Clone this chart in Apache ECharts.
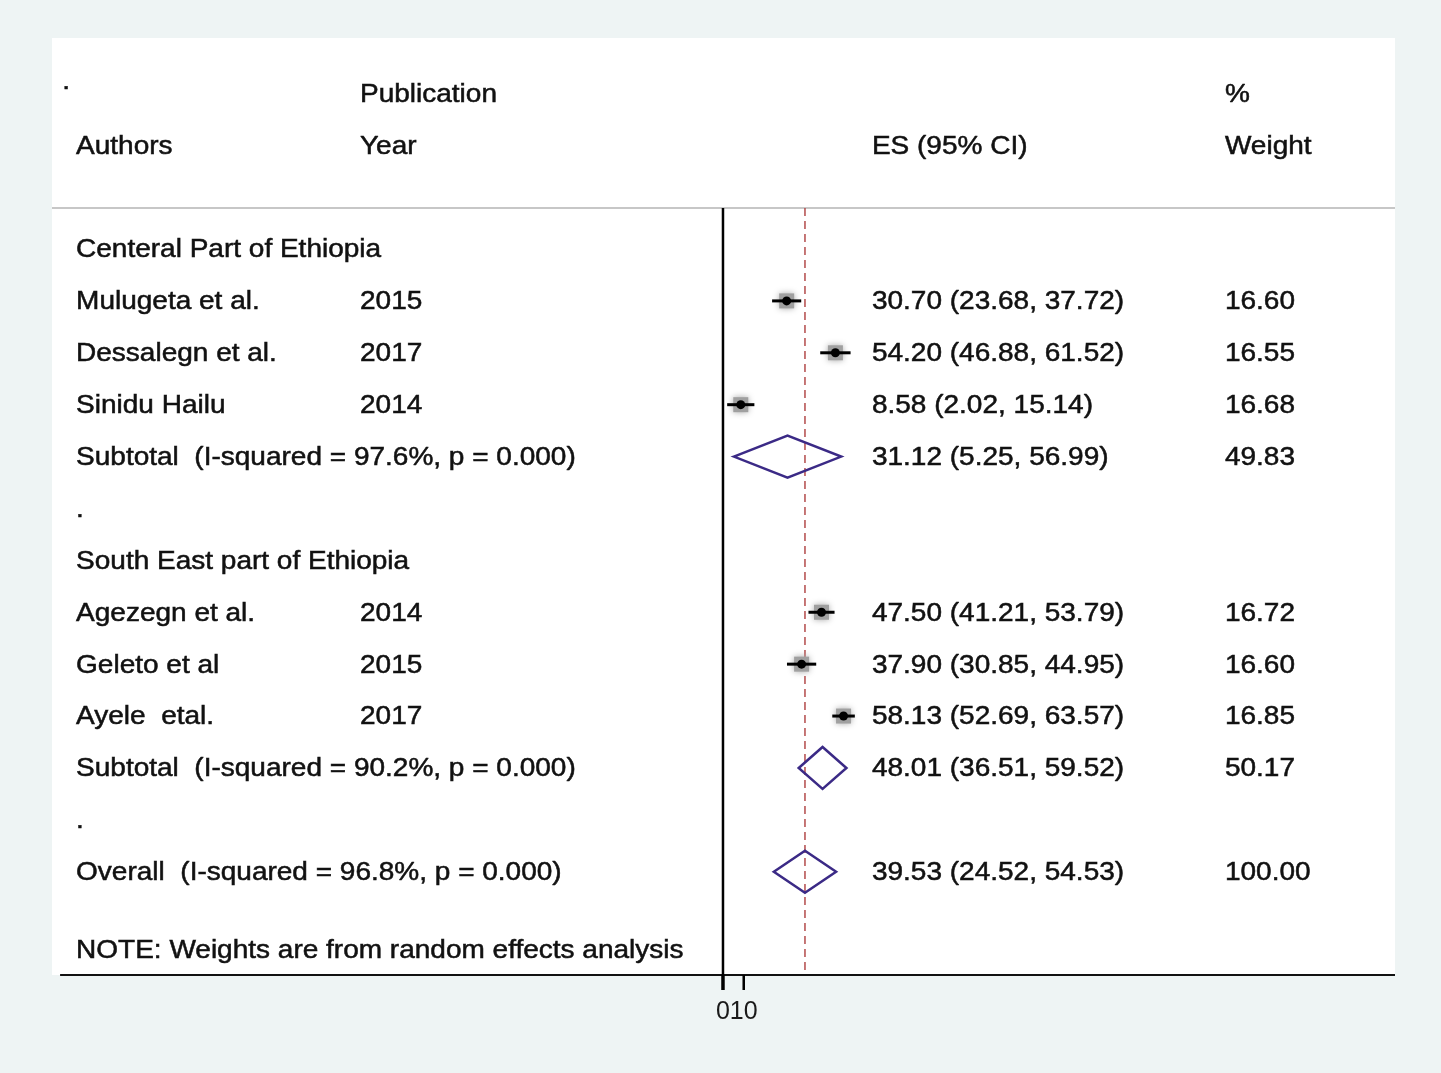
<!DOCTYPE html>
<html><head><meta charset="utf-8">
<script src="https://cdn.jsdelivr.net/npm/echarts@6/dist/echarts.min.js"></script>
<style>html,body{margin:0;padding:0;background:#fff}#c{width:1441px;height:1073px}</style>
</head><body><div id="c"></div>
<script>
// ---- data ----
const groupNames = ['Centeral Part of Ethiopia', 'South East part of Ethiopia'];
const authors = ['Mulugeta et al.', 'Dessalegn et al.', 'Sinidu Hailu', 'Agezegn et al.', 'Geleto et al', 'Ayele  etal.'];
const studyGroup = [0, 0, 0, 1, 1, 1];
const years = [2015, 2017, 2014, 2014, 2015, 2017];
const es = [30.70, 54.20, 8.58, 47.50, 37.90, 58.13];
const lo = [23.68, 46.88, 2.02, 41.21, 30.85, 52.69];
const hi = [37.72, 61.52, 15.14, 53.79, 44.95, 63.57];
const weights = [16.60, 16.55, 16.68, 16.72, 16.60, 16.85];
const subES = [31.12, 48.01];
const subLo = [5.25, 36.51];
const subHi = [56.99, 59.52];
const subW = [49.83, 50.17];
const subI2 = ['97.6%', '90.2%'];
const overallES = 39.53, overallLo = 24.52, overallHi = 54.53, overallW = 100.00, overallI2 = '96.8%';
const xTickValues = [0, 10];
const xTickLabels = ['0', '10'];
const headerTop = ['Publication', '%'];
const headerBottom = ['Authors', 'Year', 'ES (95% CI)', 'Weight'];
const noteText = 'NOTE: Weights are from random effects analysis';

// ---- layout (data units of the axes) ----
const colA = -311.9, colY = -175.0, colES = 71.8, colW = 242.0, colDot = -318.5;
const X_MIN = -323.5, X_MAX = 324.0, Y_MIN = -4.066, Y_MAX = 13.99;
const TOP_LINE = -0.79, AXIS_LEFT = -319.6;

const f2 = v => v.toFixed(2);
const ci = (e, l, h) => `${f2(e)} (${f2(l)}, ${f2(h)})`;

// build rows
const texts = [];
const studies = [];
const diamonds = [];
texts.push({ x: colDot, y: -3.25, t: '.' });
texts.push({ x: colY, y: -3, t: headerTop[0] });
texts.push({ x: colW, y: -3, t: headerTop[1] });
texts.push({ x: colA, y: -2, t: headerBottom[0] });
texts.push({ x: colY, y: -2, t: headerBottom[1] });
texts.push({ x: colES, y: -2, t: headerBottom[2] });
texts.push({ x: colW, y: -2, t: headerBottom[3] });
let row = 0;
for (let g = 0; g < groupNames.length; g++) {
  texts.push({ x: colA, y: row, t: groupNames[g] });
  row++;
  for (let i = 0; i < authors.length; i++) {
    if (studyGroup[i] !== g) continue;
    texts.push({ x: colA, y: row, t: authors[i] });
    texts.push({ x: colY, y: row, t: String(years[i]) });
    texts.push({ x: colES, y: row, t: ci(es[i], lo[i], hi[i]) });
    texts.push({ x: colW, y: row, t: f2(weights[i]) });
    studies.push([es[i], row, lo[i], hi[i]]);
    row++;
  }
  texts.push({ x: colA, y: row, t: `Subtotal  (I-squared = ${subI2[g]}, p = 0.000)` });
  texts.push({ x: colES, y: row, t: ci(subES[g], subLo[g], subHi[g]) });
  texts.push({ x: colW, y: row, t: f2(subW[g]) });
  diamonds.push([subES[g], row, subLo[g], subHi[g]]);
  row++;
  texts.push({ x: colA, y: row, t: '.' });
  row++;
}
texts.push({ x: colA, y: row, t: `Overall  (I-squared = ${overallI2}, p = 0.000)` });
texts.push({ x: colES, y: row, t: ci(overallES, overallLo, overallHi) });
texts.push({ x: colW, y: row, t: f2(overallW) });
diamonds.push([overallES, row, overallLo, overallHi]);
texts.push({ x: colA, y: row + 1.5, t: noteText });

const FONT = 'Liberation Sans, Arial, Helvetica, sans-serif';

const chart = echarts.init(document.getElementById('c'));
chart.setOption({
  backgroundColor: '#eef4f4',
  animation: false,
  grid: { left: 52, right: 46, top: 38, bottom: 98, show: true, backgroundColor: '#ffffff', borderWidth: 0 },
  xAxis: {
    type: 'value', min: X_MIN, max: X_MAX,
    splitLine: { show: false },
    axisLine: { show: false, onZero: false },
    axisTick: { show: false },
    axisLabel: { show: false }
  },
  yAxis: {
    type: 'value', inverse: true, min: Y_MIN, max: Y_MAX,
    show: false
  },
  series: [
    {
      type: 'custom', silent: true, z: 1,
      data: [[0, 0]],
      renderItem: function (params, api) {
        const tl = api.coord([X_MIN, TOP_LINE]);
        const tr = api.coord([X_MAX, TOP_LINE]);
        const bl = api.coord([AXIS_LEFT, Y_MAX]);
        const br = api.coord([X_MAX, Y_MAX]);
        const z0t = api.coord([0, TOP_LINE]);
        const z0b = api.coord([0, Y_MAX]);
        const ot = api.coord([overallES, TOP_LINE]);
        const ob = api.coord([overallES, Y_MAX]);
        return {
          type: 'group', children: [
            { type: 'line', shape: { x1: tl[0], y1: tl[1], x2: tr[0], y2: tr[1] }, style: { stroke: '#b4b4b4', lineWidth: 1.5 } },
            { type: 'line', shape: { x1: bl[0], y1: bl[1], x2: br[0], y2: br[1] }, style: { stroke: '#111', lineWidth: 1.8 } },
            { type: 'line', shape: { x1: z0t[0], y1: z0t[1], x2: z0b[0], y2: z0b[1] }, style: { stroke: '#000', lineWidth: 2.5 } },
            { type: 'line', shape: { x1: ot[0], y1: ot[1], x2: ob[0], y2: ob[1] }, style: { stroke: '#b34a4a', lineWidth: 1.5, lineDash: [8, 5] } }
          ]
        };
      }
    },
    {
      // x-axis ticks and tick labels, placed through the x scale
      type: 'custom', silent: true, z: 5, clip: false,
      data: xTickValues.map(v => [v, Y_MAX]),
      renderItem: function (params, api) {
        const p = api.coord([api.value(0), api.value(1)]);
        return {
          type: 'group', children: [
            { type: 'line', shape: { x1: p[0], y1: p[1], x2: p[0], y2: p[1] + 15 }, style: { stroke: '#000', lineWidth: params.dataIndex === 0 ? 3.5 : 2.5 } },
            { type: 'text', x: p[0], y: p[1] + 37, style: { text: xTickLabels[params.dataIndex], fontSize: 25, fontFamily: FONT, fill: '#1a1a1a', align: 'center', verticalAlign: 'middle' } }
          ]
        };
      }
    },
    {
      type: 'custom', silent: true, z: 3,
      data: studies,
      encode: { x: [0, 2, 3], y: 1 },
      renderItem: function (params, api) {
        const y = api.value(1);
        const p = api.coord([api.value(0), y]);
        const l = api.coord([api.value(2), y]);
        const r = api.coord([api.value(3), y]);
        return {
          type: 'group', children: [
            { type: 'rect', shape: { x: p[0] - 7.5, y: p[1] - 7.5, width: 15, height: 15 }, style: { fill: '#a0a0a0', shadowBlur: 6, shadowColor: '#a8a8a8' } },
            { type: 'line', shape: { x1: l[0], y1: l[1], x2: r[0], y2: r[1] }, style: { stroke: '#000', lineWidth: 3 } },
            { type: 'circle', shape: { cx: p[0], cy: p[1], r: 4.5 }, style: { fill: '#000' } }
          ]
        };
      }
    },
    {
      type: 'custom', silent: true, z: 3,
      data: diamonds,
      encode: { x: [0, 2, 3], y: 1 },
      renderItem: function (params, api) {
        const y = api.value(1);
        const p = api.coord([api.value(0), y]);
        const l = api.coord([api.value(2), y]);
        const r = api.coord([api.value(3), y]);
        const h = 21;
        return {
          type: 'polygon',
          shape: { points: [[l[0], p[1]], [p[0], p[1] - h], [r[0], p[1]], [p[0], p[1] + h]] },
          style: { fill: 'none', stroke: '#3b2a86', lineWidth: 2.5 }
        };
      }
    },
    {
      type: 'custom', silent: true, z: 4,
      data: texts.map(d => [d.x, d.y]),
      renderItem: function (params, api) {
        const p = api.coord([api.value(0), api.value(1)]);
        return {
          type: 'text', x: p[0], y: p[1] + 1.5, scaleX: 1.12, scaleY: 1,
          style: { text: texts[params.dataIndex].t, fontSize: 25, fontFamily: FONT, fill: '#111', stroke: '#111', lineWidth: 0.5, align: 'left', verticalAlign: 'middle' }
        };
      }
    }
  ]
});
</script>
</body></html>
